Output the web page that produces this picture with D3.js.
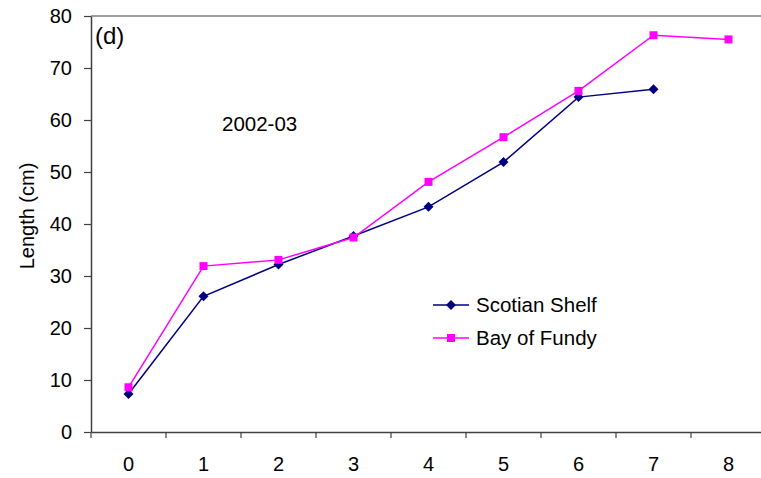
<!DOCTYPE html>
<html>
<head>
<meta charset="utf-8">
<script src="https://cdn.jsdelivr.net/npm/d3@7"></script>
<style>
  html, body { margin: 0; padding: 0; background: #fff; }
  svg { display: block; font-family: Arial, "Liberation Sans", sans-serif; }
</style>
</head>
<body>
<svg id="chart" width="761" height="478"></svg>
<script>
// Age classes (x categories)
const ages = ["0", "1", "2", "3", "4", "5", "6", "7", "8"];
// Mean length at age (cm)
const scotianShelf = [7.3, 26.1, 32.2, 37.7, 43.3, 51.9, 64.4, 65.9, null];
const bayOfFundy   = [8.6, 31.9, 33.1, 37.4, 48.1, 56.7, 65.6, 76.3, 75.5];
const yTicks = [0, 10, 20, 30, 40, 50, 60, 70, 80];
const seriesNames = ["Scotian Shelf", "Bay of Fundy"];
const seriesColors = ["#000080", "#FF00FF"];

const svg = d3.select("#chart");
const plotLeft = 91, plotRight = 766, plotTop = 16, plotBottom = 432;

const x = d3.scaleBand().domain(ages).range([plotLeft, plotRight]).padding(0);
const y = d3.scaleLinear().domain([0, 80]).range([plotBottom, plotTop]);
const cx = d => x(d) + x.bandwidth() / 2;

// top border of plot area
svg.append("line")
  .attr("x1", plotLeft).attr("x2", plotRight)
  .attr("y1", plotTop).attr("y2", plotTop)
  .attr("stroke", "#808080").attr("stroke-width", 1.5);

// y axis
const yAxis = svg.append("g")
  .attr("transform", `translate(${plotLeft},0)`)
  .call(d3.axisLeft(y).tickValues(yTicks).tickSize(7).tickPadding(12).tickSizeOuter(0));
yAxis.select(".domain").attr("stroke", "#404040").attr("stroke-width", 1.5);
yAxis.selectAll(".tick line").attr("stroke", "#404040").attr("stroke-width", 1.2);
yAxis.selectAll(".tick text").attr("font-size", 20).attr("fill", "#000")
  .attr("font-family", "Arial, 'Liberation Sans', sans-serif");

// x axis: labels centred in each category, ticks on category boundaries
const xAxis = svg.append("g")
  .attr("transform", `translate(0,${plotBottom})`)
  .call(d3.axisBottom(x).tickSize(0).tickPadding(25).tickSizeOuter(0));
xAxis.select(".domain").attr("stroke", "#404040").attr("stroke-width", 1.5);
xAxis.selectAll(".tick text").attr("font-size", 20).attr("fill", "#000")
  .attr("font-family", "Arial, 'Liberation Sans', sans-serif");
xAxis.selectAll("line.boundary")
  .data(ages.concat([null]))
  .enter().append("line")
  .attr("class", "boundary")
  .attr("x1", (d, i) => plotLeft + i * x.step())
  .attr("x2", (d, i) => plotLeft + i * x.step())
  .attr("y1", 0).attr("y2", 6)
  .attr("stroke", "#404040").attr("stroke-width", 1.2);

// series lines and markers
const data = [scotianShelf, bayOfFundy];
const line = d3.line()
  .defined(d => d.v != null)
  .x(d => cx(d.a)).y(d => y(d.v));

// diamond = square turned 45 degrees; square marker upright
const markerPath = d3.symbol().type(d3.symbolSquare);
const markers = [
  { d: markerPath.size(50)(), rot: 45 },
  { d: markerPath.size(64)(), rot: 0 }
];

data.forEach((vals, si) => {
  const pts = ages.map((a, i) => ({ a, v: vals[i] }));
  svg.append("path")
    .datum(pts)
    .attr("d", line)
    .attr("fill", "none")
    .attr("stroke", seriesColors[si])
    .attr("stroke-width", 1.5);
  svg.selectAll(null)
    .data(pts.filter(d => d.v != null))
    .enter().append("path")
    .attr("transform", d => `translate(${cx(d.a)},${y(d.v)}) rotate(${markers[si].rot})`)
    .attr("d", markers[si].d)
    .attr("fill", seriesColors[si]);
});

// legend
const legend = svg.append("g");
seriesNames.forEach((name, i) => {
  const ly = 305 + i * 33;
  legend.append("line")
    .attr("x1", 433).attr("x2", 469).attr("y1", ly).attr("y2", ly)
    .attr("stroke", seriesColors[i]).attr("stroke-width", 1.5);
  legend.append("path")
    .attr("transform", `translate(451,${ly}) rotate(${markers[i].rot})`)
    .attr("d", markers[i].d)
    .attr("fill", seriesColors[i]);
  legend.append("text")
    .attr("x", 476).attr("y", ly + 7)
    .attr("font-size", 20.5)
    .text(name);
});

// annotations
svg.append("text").attr("x", 95).attr("y", 44).attr("font-size", 24).text("(d)");
svg.append("text").attr("x", 222).attr("y", 131).attr("font-size", 20.5).text("2002-03");

// y axis title
svg.append("text")
  .attr("transform", `translate(34,216) rotate(-90)`)
  .attr("text-anchor", "middle")
  .attr("font-size", 20)
  .text("Length (cm)");
</script>
</body>
</html>
